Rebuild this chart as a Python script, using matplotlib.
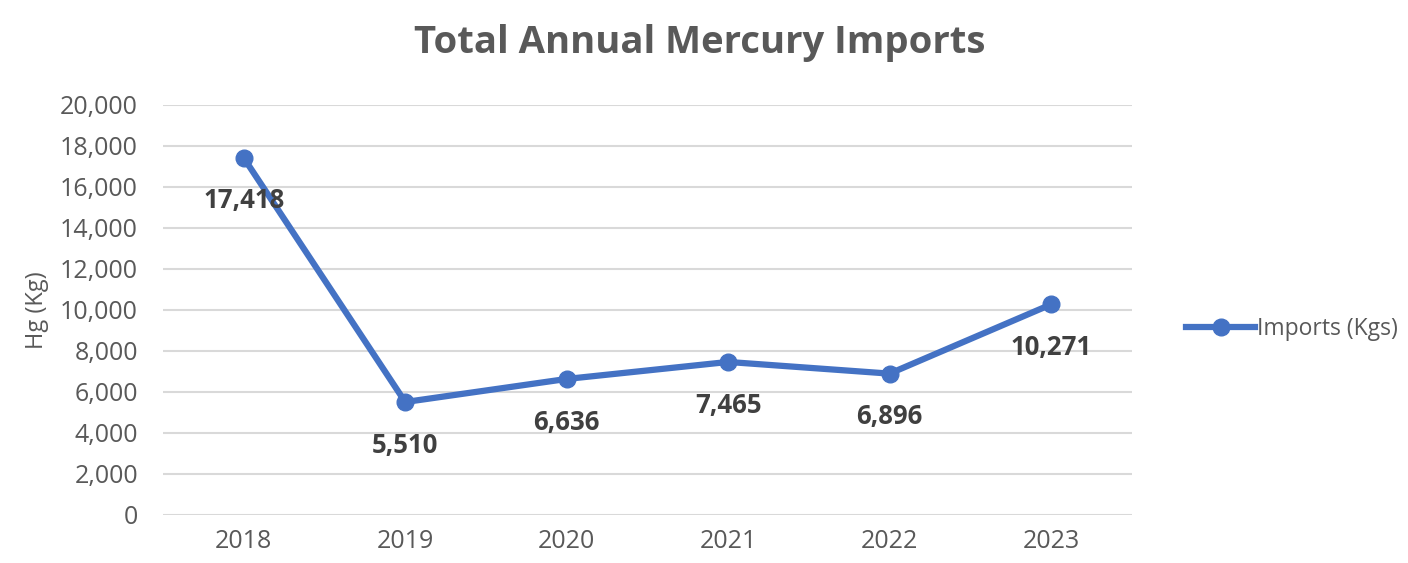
import matplotlib.pyplot as plt
from matplotlib.ticker import FuncFormatter

years = ["2018", "2019", "2020", "2021", "2022", "2023"]
imports = [17418, 5510, 6636, 7465, 6896, 10271]
yticks = list(range(0, 20001, 2000))

plt.rcParams['font.family'] = ['Open Sans', 'DejaVu Sans']

fig = plt.figure(figsize=(14.08, 5.63), dpi=100)
ax = fig.add_axes([0.1158, 0.0853, 0.688, 0.7282])

x = list(range(len(years)))
line, = ax.plot(x, imports, color='#4472C4', linewidth=4.5, marker='o', markersize=12,
                label='Imports (Kgs)', zorder=3)

for xi, v in zip(x, imports):
    ax.annotate(f"{v:,}", (xi, v), xytext=(0, -31), textcoords='offset points',
                ha='center', va='center', fontsize=18.5, fontweight='bold', color='#404040')

ax.set_xlim(-0.5, len(years) - 0.5)
ax.set_ylim(0, 20000)
ax.set_yticks(yticks)
ax.yaxis.set_major_formatter(FuncFormatter(lambda v, p: f"{int(v):,}"))
ax.set_xticks(x)
ax.set_xticklabels(years)
ax.tick_params(axis='both', length=0, labelsize=18, labelcolor='#595959')
ax.tick_params(axis='y', pad=18)
ax.tick_params(axis='x', pad=10)
ax.grid(axis='y', color='#d9d9d9', linewidth=1.5)
ax.set_axisbelow(True)
for s in ax.spines.values():
    s.set_visible(False)

ax.set_ylabel('Hg (Kg)', fontsize=17, color='#595959', labelpad=8)
fig.suptitle('Total Annual Mercury Imports', x=0.497, y=0.958, fontsize=27.5,
             fontweight='bold', color='#595959')

fig.legend(handles=[line], loc='center left', bbox_to_anchor=(0.836, 0.415),
           frameon=False, fontsize=16.5, labelcolor='#595959', handlelength=3.0,
           handletextpad=0.1, borderaxespad=0)

fig.savefig('out.png', dpi=100)
